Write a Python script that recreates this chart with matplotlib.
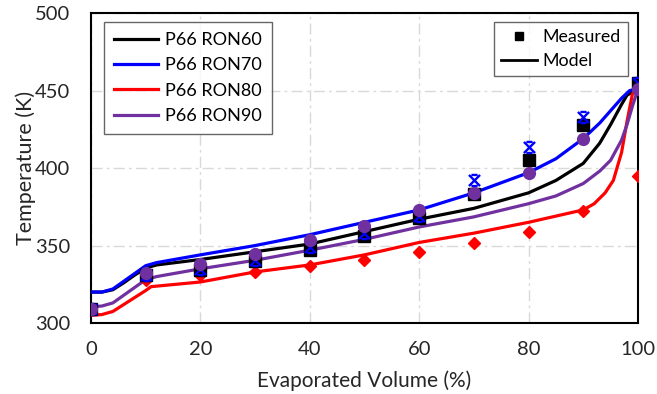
import matplotlib
matplotlib.use("Agg")
import matplotlib.pyplot as plt
from matplotlib.path import Path
from matplotlib.lines import Line2D

plt.rcParams['font.family'] = ['Lato', 'DejaVu Sans']

# Measured data
meas_x = [0, 10, 20, 30, 40, 50, 60, 70, 80, 90, 100]
ron60_meas = [309, 331, 334, 340, 347, 356, 368, 383, 405, 428, 455]
ron70_meas = [309, 331, 335, 341, 349, 358, 369, 392, 413.5, 433, 455]
ron80_meas = [309, 328, 331, 333, 337, 341, 346, 351.5, 359, 372, 395]
ron90_meas = [309, 332, 338, 344.5, 353.5, 362.5, 373, 384, 397, 419, 451]

# Model curves
ron60_mx = [0, 2, 4, 6, 8, 10, 12, 20, 30, 40, 50, 60, 70, 80, 85, 90, 93, 95, 97, 98, 100]
ron60_my = [320, 320, 321.5, 326, 331, 335.5, 337.5, 341, 346, 351, 359, 367, 374, 384, 392, 403, 416, 428, 441, 447, 451]
ron70_mx = [0, 2, 4, 6, 8, 10, 12, 20, 30, 40, 50, 60, 70, 80, 85, 90, 93, 95, 97, 98.5, 100]
ron70_my = [320, 320, 322, 327, 332, 337, 339, 344, 350, 357, 365, 373, 384, 397, 406, 419, 429, 437, 445, 450, 451]
ron80_mx = [0, 2, 4, 6, 8, 10, 11, 20, 30, 40, 50, 60, 70, 80, 85, 90, 92, 94, 95.5, 97, 98, 99, 100]
ron80_my = [305, 305.5, 307.5, 312, 316.5, 321, 323.5, 326.5, 333, 337.5, 344, 352, 358, 365, 369, 373, 377, 384, 392, 410, 430, 448, 451]
ron90_mx = [0, 2, 4, 6, 8, 10, 12, 20, 30, 40, 50, 60, 70, 80, 85, 90, 93, 95, 97, 98, 99, 100]
ron90_my = [310.5, 311, 313, 318, 323, 328, 330, 335, 340.5, 347, 354, 362, 368.5, 377, 382, 390, 398, 405, 418, 428, 440, 451]

labels = ['P66 RON60', 'P66 RON70', 'P66 RON80', 'P66 RON90']
colors = ['#000000', '#0000ff', '#ff0000', '#7030a0']

star = Path([(-1, -1), (1, 1), (-1, 1), (1, -1), (-0.55, 1), (0.55, 1), (-0.55, -1), (0.55, -1)],
            [Path.MOVETO, Path.LINETO, Path.MOVETO, Path.LINETO,
             Path.MOVETO, Path.LINETO, Path.MOVETO, Path.LINETO])

fig = plt.figure(figsize=(6.57, 3.94), dpi=100)
ax = fig.add_axes([0.1385, 0.180, 0.8325, 0.787])

lw = 2.3
h60, = ax.plot(ron60_mx, ron60_my, color=colors[0], lw=lw, zorder=3)
h70, = ax.plot(ron70_mx, ron70_my, color=colors[1], lw=lw, zorder=3)
h80, = ax.plot(ron80_mx, ron80_my, color=colors[2], lw=lw, zorder=3)
h90, = ax.plot(ron90_mx, ron90_my, color=colors[3], lw=lw, zorder=3)

ax.plot(meas_x, ron80_meas, ls='none', marker='D', ms=6.5, color=colors[2], zorder=4)
ax.plot(meas_x, ron60_meas, ls='none', marker='s', ms=8, color=colors[0], zorder=5)
ax.plot(meas_x, ron70_meas, ls='none', marker=star, ms=8, mfc='none', mec=colors[1], mew=1.7, zorder=6)
ax.plot(meas_x, ron90_meas, ls='none', marker='o', ms=8.5, color=colors[3], zorder=7)

ax.set_xlim(0, 100)
ax.set_ylim(300, 500)
ax.set_xticks([0, 20, 40, 60, 80, 100])
ax.set_yticks([300, 350, 400, 450, 500])
ax.tick_params(axis='both', length=0, labelsize=14.5, colors='#262626')
ax.tick_params(axis='x', pad=13)
ax.tick_params(axis='y', pad=15)
ax.grid(True, color='#d9d9d9', ls=(0, (8, 3, 2, 3)), lw=1)
ax.set_axisbelow(True)
for s in ax.spines.values():
    s.set_linewidth(1.5)
    s.set_color('#000000')

ax.set_xlabel('Evaporated Volume (%)', fontsize=15, labelpad=9, color='#262626')
ax.set_ylabel('Temperature (K)', fontsize=15.5, labelpad=-0.5, color='#262626')

leg1 = ax.legend([h60, h70, h80, h90], labels, loc='upper left', bbox_to_anchor=(0.0238, 0.971),
                 borderaxespad=0, fontsize=13, frameon=True, fancybox=False, edgecolor='#404040',
                 handlelength=2.45, handletextpad=0.4, labelspacing=0.52, borderpad=0.55)
leg1.get_frame().set_linewidth(1.0)
ax.add_artist(leg1)

hm = Line2D([], [], ls='none', marker='s', ms=6, color='black')
hl = Line2D([], [], color='black', lw=2)
leg2 = ax.legend([hm, hl], ['Measured', 'Model'], loc='upper right', bbox_to_anchor=(0.982, 0.971),
                 borderaxespad=0, fontsize=12.8, frameon=True, fancybox=False, edgecolor='#404040',
                 handlelength=2.0, handletextpad=0.35, labelspacing=0.45, borderpad=0.4)
leg2.get_frame().set_linewidth(1.0)

fig.savefig('out.png', dpi=100)
